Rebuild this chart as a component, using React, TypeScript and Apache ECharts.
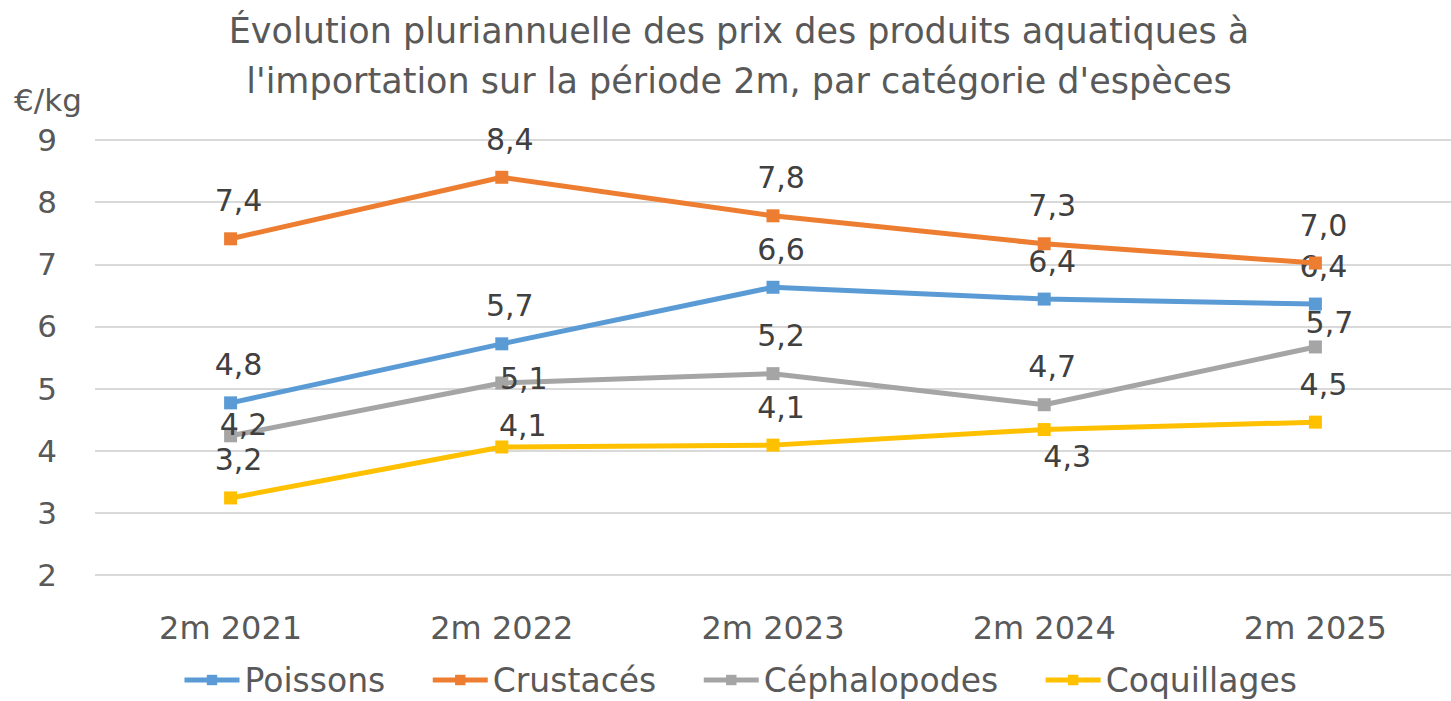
import React, { useEffect, useRef } from "react";
import * as echarts from "echarts";

const categories = ["2m 2021", "2m 2022", "2m 2023", "2m 2024", "2m 2025"];
const seriesNames = ["Poissons", "Crustacés", "Céphalopodes", "Coquillages"];
const poissons = [4.77, 5.72, 6.63, 6.44, 6.36];
const crustaces = [7.41, 8.4, 7.78, 7.33, 7.02];
const cephalopodes = [4.24, 5.09, 5.24, 4.74, 5.67];
const coquillages = [3.24, 4.06, 4.09, 4.34, 4.46];
const titleLines = [
  "Évolution pluriannuelle des prix des produits aquatiques à",
  "l'importation sur la période 2m, par catégorie d'espèces",
];
const unitLabel = "€/kg";

const colors = ["#5B9BD5", "#ED7D31", "#A5A5A5", "#FFC000"];
const ABOVE: [number, number] = [8, -38];
const labelOffsets: [number, number][][] = [
  [ABOVE, ABOVE, ABOVE, ABOVE, ABOVE],
  [ABOVE, ABOVE, ABOVE, ABOVE, ABOVE],
  [[13, -11], [22, -4], ABOVE, ABOVE, [14, -24]],
  [ABOVE, [21, -21], ABOVE, [23, 27], ABOVE],
];

const FONT = "'DejaVu Sans', sans-serif";

export default function App() {
  const ref = useRef<HTMLDivElement>(null);
  useEffect(() => {
    if (!ref.current) return;
    const chart = echarts.init(ref.current, undefined, { renderer: "svg" });
    const all = [poissons, crustaces, cephalopodes, coquillages];
    const series = all.map((vals, si) => ({
      name: seriesNames[si],
      type: "line",
      data: vals.map((v, i) => ({
        value: v,
        label: { offset: labelOffsets[si][i] },
      })),
      symbol: "rect",
      symbolSize: 13,
      lineStyle: { width: 5, color: colors[si] },
      itemStyle: { color: colors[si] },
      label: {
        show: true,
        position: "inside",
        align: "center",
        verticalAlign: "middle",
        fontSize: 30,
        fontFamily: FONT,
        color: "#404040",
        formatter: (p: any) => p.value.toFixed(1).replace(".", ","),
      },
      z: 2 + si,
    }));
    const titleStyle = (text: string) => ({
      text,
      fill: "#595959",
      font: `35px ${FONT}`,
      textAlign: "center",
      textVerticalAlign: "middle",
    });
    chart.setOption({
      animation: false,
      color: colors,
      textStyle: { fontFamily: FONT },
      graphic: [
        { type: "text", x: 739, y: 31, style: titleStyle(titleLines[0]) },
        { type: "text", x: 739, y: 81, style: titleStyle(titleLines[1]) },
        {
          type: "text",
          x: 48,
          y: 100,
          style: {
            text: unitLabel,
            fill: "#595959",
            font: `31px ${FONT}`,
            textAlign: "center",
            textVerticalAlign: "middle",
          },
        },
      ],
      grid: { left: 95, top: 140, width: 1370, bottom: 126, containLabel: false },
      xAxis: {
        type: "category",
        data: categories,
        boundaryGap: true,
        axisLine: { show: false },
        axisTick: { show: false },
        axisLabel: { fontSize: 32, color: "#595959", margin: 37, fontFamily: FONT },
      },
      yAxis: {
        type: "value",
        min: 2,
        max: 9,
        interval: 1,
        axisLine: { show: false },
        axisTick: { show: false },
        axisLabel: { fontSize: 31, color: "#595959", margin: 38, fontFamily: FONT },
        splitLine: { lineStyle: { color: "#D9D9D9", width: 2 } },
      },
      legend: {
        data: seriesNames,
        left: 177,
        top: 657,
        itemWidth: 55,
        itemHeight: 13,
        itemGap: 45,
        lineStyle: { width: 5 },
        textStyle: { fontSize: 33, lineHeight: 36, color: "#595959", fontFamily: FONT },
      },
      series,
    });
    return () => chart.dispose();
  }, []);
  return (
    <div
      ref={ref}
      style={{ position: "absolute", left: 0, top: 0, width: 1451, height: 701, background: "#fff" }}
    />
  );
}
